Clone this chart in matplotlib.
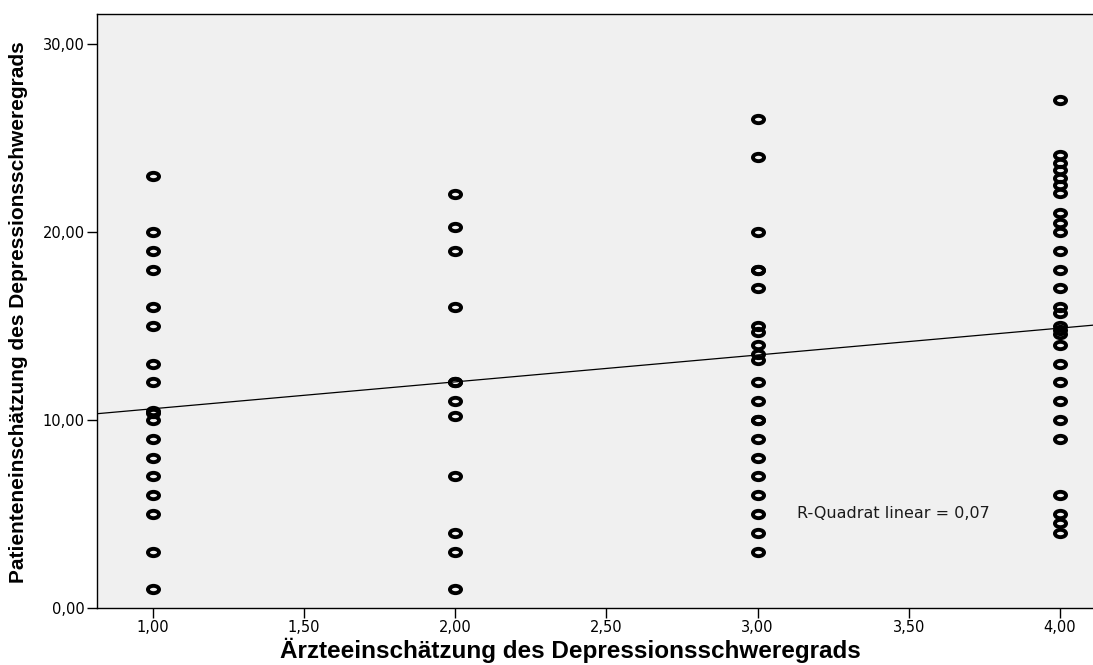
import matplotlib
matplotlib.use("Agg")
import matplotlib.pyplot as plt
from matplotlib.path import Path
from matplotlib.transforms import Affine2D
import numpy as np

# Physician rating (x) and patient self-rating (y), grouped by physician rating
group_x = [1.0, 2.0, 3.0, 4.0]
patient_g1 = [23, 20, 19, 18, 16, 15, 13, 12, 10.5, 10.4, 10, 9, 8, 7, 6, 5, 3, 1]
patient_g2 = [22, 20.25, 19, 16, 12, 12, 11, 10.2, 7, 4, 3, 1]
patient_g3 = [26, 24, 20, 18, 18, 17, 15, 14.7, 14, 13.5, 13.2, 12, 11, 10, 10,
              9, 8, 7, 6, 5, 4, 3]
patient_g4 = [27, 24.1, 23.7, 23.3, 22.9, 22.5, 22.1, 21, 20.5, 20, 19, 18, 17,
              16, 15.7, 15, 14.8, 14.6, 14, 13, 12, 11, 10, 9, 6, 5, 4.5, 4]

# Linear fit line (intercept, slope) and its R-squared
fit_intercept = 9.17
fit_slope = 1.43
r_squared = 0.07

x_ticks = [1.0, 1.5, 2.0, 2.5, 3.0, 3.5, 4.0]
y_ticks = [0.0, 10.0, 20.0, 30.0]

x_label = "Ärzteeinschätzung des Depressionsschweregrads"
y_label = "Patienteneinschätzung des Depressionsschweregrads"


def de_num(v):
    return f"{v:.2f}".replace(".", ",")


W, H = 1093, 665
plt.rcParams["font.family"] = ["DejaVu Sans"]

fig = plt.figure(figsize=(W / 100, H / 100), dpi=100)
ax = fig.add_axes([97 / W, 1 - 608 / H, (W - 97) / W, (608 - 14) / H])
ax.set_facecolor("#F0F0F0")

# flattened open ellipse marker
ellipse = Affine2D().scale(1.0, 0.66).transform_path(Path.unit_circle())

groups = [patient_g1, patient_g2, patient_g3, patient_g4]
for gx, ys in zip(group_x, groups):
    ax.plot([gx] * len(ys), ys, linestyle="none", marker=ellipse,
            markersize=8.0, markerfacecolor="none", markeredgecolor="black",
            markeredgewidth=2.8, zorder=3)

ax.set_xlim(0.815, 4.109)
ax.set_ylim(0, 31.6)

xs = np.array(ax.get_xlim())
ax.plot(xs, fit_intercept + fit_slope * xs, color="black", linewidth=0.9, zorder=2)

ax.text(3.13, 5.05, f"R-Quadrat linear = {r_squared:.2f}".replace(".", ","),
        fontsize=11.5, va="center", ha="left", color="#1a1a1a")

ax.set_xticks(x_ticks)
ax.set_xticklabels([de_num(v) for v in x_ticks])
ax.set_yticks(y_ticks)
ax.set_yticklabels([de_num(v) for v in y_ticks])
ax.tick_params(direction="out", length=7, width=1, labelsize=10.5, colors="black", pad=2)
ax.tick_params(axis="x", pad=1.5)

for side in ("left", "bottom", "top"):
    ax.spines[side].set_color("black")
    ax.spines[side].set_linewidth(1)
ax.spines["right"].set_visible(False)

label_family = ["Liberation Sans", "DejaVu Sans"]
fig.text(570 / W, 1 - 658 / H, x_label, ha="center", va="baseline",
         fontsize=17.5, fontweight="bold", family=label_family)
fig.text(19 / W, 1 - 312 / H, y_label, ha="center", va="center", rotation=90,
         fontsize=15, fontweight="bold", family=label_family)

fig.savefig("out.png", dpi=100, facecolor="white")
